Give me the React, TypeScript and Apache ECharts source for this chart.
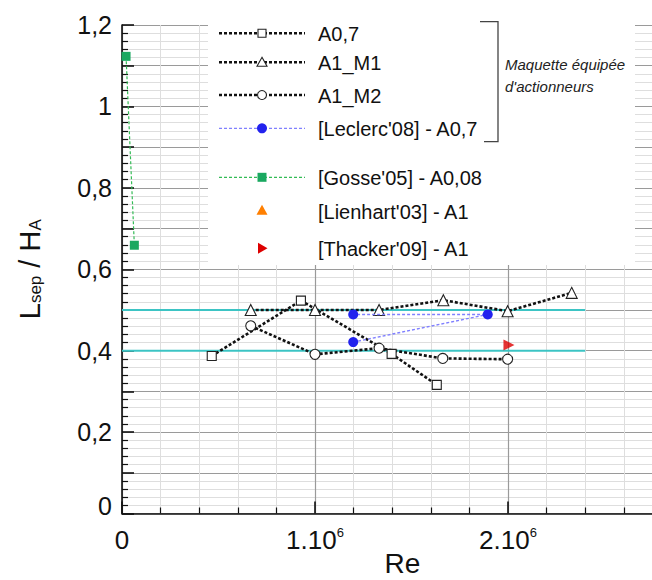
import React, { useEffect, useRef } from "react";
import * as echarts from "echarts";

// ---- data (Re, Lsep/HA) ----
const a07Re = [0.465e6, 0.927e6, 1.397e6, 1.631e6];
const a07L = [0.387, 0.523, 0.392, 0.316];

const a1m1Re = [0.667e6, 1.0e6, 1.332e6, 1.665e6, 1.998e6, 2.33e6];
const a1m1L = [0.5, 0.5, 0.5, 0.524, 0.497, 0.542];

const a1m2Re = [0.667e6, 1.0e6, 1.332e6, 1.662e6, 1.998e6];
const a1m2L = [0.461, 0.391, 0.406, 0.381, 0.379];

const leclercRe = [1.198e6, 1.895e6, 1.198e6];
const leclercL = [0.421, 0.489, 0.489];

const gosseRe = [0.021e6, 0.064e6];
const gosseL = [1.123, 0.659];

const thackerRe = [2.005e6];
const thackerL = [0.414];

const refLevels = [0.5, 0.4];
const refRe = [0, 2.4e6];

const legendNames = [
  "A0,7",
  "A1_M1",
  "A1_M2",
  "[Leclerc'08] - A0,7",
  "[Gosse'05] - A0,08",
  "[Lienhart'03] - A1",
  "[Thacker'09] - A1",
];
const bracketText = ["Maquette équipée", "d'actionneurs"];

const zip = (xs: number[], ys: number[]) => xs.map((x, i) => [x, ys[i]]);

const FONT = "'Liberation Sans', Arial, Helvetica, sans-serif";

export default function App() {
  const ref = useRef<HTMLDivElement>(null);
  useEffect(() => {
    document.body.style.margin = "0";
    const chart = echarts.init(ref.current!, null, { renderer: "svg" });
    const dotted = { color: "#111", width: 2.6, type: [3, 2] as any };
    const legendRows = [33.3, 62.3, 95, 128.3, 177.3, 210.7, 248.3];
    const lx0 = 219, lx1 = 305, mx = 262, tx = 318;
    const lg: any[] = [];
    lg.push({ type: "rect", shape: { x: 208, y: 0, width: 427, height: 265 }, style: { fill: "#fff" }, z: 90 });
    for (let i = 0; i < 5; i++) {
      const y = legendRows[i];
      const isLec = i === 3, isGos = i === 4;
      lg.push({
        type: "line", z: 91,
        shape: { x1: lx0, y1: y, x2: lx1, y2: y },
        style: {
          stroke: isLec ? "#8080ff" : isGos ? "#33bb55" : "#111",
          lineWidth: isLec || isGos ? 1.2 : 2.6,
          lineDash: [3, 2],
        },
      });
    }
    lg.push({ type: "rect", z: 92, shape: { x: mx - 4, y: legendRows[0] - 4, width: 8, height: 8 }, style: { fill: "#fff", stroke: "#222", lineWidth: 1.1 } });
    lg.push({ type: "polygon", z: 92, shape: { points: [[mx, legendRows[1] - 5], [mx + 5, legendRows[1] + 4], [mx - 5, legendRows[1] + 4]] }, style: { fill: "#fff", stroke: "#222", lineWidth: 1.1 } });
    lg.push({ type: "circle", z: 92, shape: { cx: mx, cy: legendRows[2], r: 4.5 }, style: { fill: "#fff", stroke: "#222", lineWidth: 1.1 } });
    lg.push({ type: "circle", z: 92, shape: { cx: mx, cy: legendRows[3], r: 5 }, style: { fill: "#2222ee" } });
    lg.push({ type: "rect", z: 92, shape: { x: mx - 4.5, y: legendRows[4] - 4.5, width: 9, height: 9 }, style: { fill: "#1aa860" } });
    lg.push({ type: "polygon", z: 92, shape: { points: [[mx, legendRows[5] - 6], [mx + 5.5, legendRows[5] + 4], [mx - 5.5, legendRows[5] + 4]] }, style: { fill: "#ff7f00" } });
    lg.push({ type: "polygon", z: 92, shape: { points: [[mx - 4, legendRows[6] - 5.5], [mx + 5.5, legendRows[6]], [mx - 4, legendRows[6] + 5.5]] }, style: { fill: "#dd0000" } });
    legendNames.forEach((n, i) => {
      lg.push({ type: "text", z: 93, x: tx, y: legendRows[i] + 1, style: { text: n, fill: "#111", font: `20px ${FONT}`, verticalAlign: "middle", align: "left" } });
    });
    lg.push({ type: "polyline", z: 92, shape: { points: [[480, 21.7], [498, 21.7], [498, 141.7], [484, 141.7]] }, style: { stroke: "#444", lineWidth: 1.3, fill: null } });
    bracketText.forEach((t, i) => {
      lg.push({ type: "text", z: 93, x: 505, y: 64 + i * 22, style: { text: t, fill: "#222", font: `italic 15px ${FONT}`, verticalAlign: "middle", align: "left" } });
    });

    const xFmt = (v: number) => {
      const k = Math.round(v / 1e6);
      if (Math.abs(v - k * 1e6) > 1 || k >= 3) return "";
      if (k === 0) return "{n|0}";
      return `{n|${k}.10}{s|6}`;
    };
    const yFmt = (v: number) => {
      const k = Math.round(v * 10);
      if (k % 2 !== 0) return "";
      if (k === 0) return "{z|0}";
      return (k / 10).toString().replace(".", ",");
    };

    chart.setOption({
      animation: false,
      textStyle: { fontFamily: FONT },
      grid: { left: 122, width: 579, top: 25, height: 488.5, outerBoundsMode: "none", containLabel: false },
      xAxis: {
        type: "value", min: 0, max: 3e6, interval: 1e6,
        axisLine: { show: true, onZero: false, lineStyle: { color: "#111", width: 1.6 } },
        axisTick: { show: true, inside: true, length: 12, lineStyle: { color: "#111", width: 1.6 } },
        minorTick: { show: true, splitNumber: 5, length: 6, lineStyle: { color: "#111", width: 1.2 } },
        splitLine: { show: true, lineStyle: { color: "#9a9a9a", width: 1.2 } },
        minorSplitLine: { show: true, lineStyle: { color: "#dedede", width: 1 } },
        axisLabel: {
          formatter: xFmt, margin: 12, color: "#111",
          rich: {
            n: { fontSize: 26, fontFamily: FONT, color: "#111", lineHeight: 28 },
            s: { fontSize: 13, fontFamily: FONT, color: "#111", verticalAlign: "top", lineHeight: 28, padding: [0, 0, 14, 0] },
          },
        },
        name: "Re", nameLocation: "middle", nameGap: 36, nameMoveOverlap: false,
        nameTextStyle: { fontSize: 28, color: "#111", fontFamily: FONT, padding: [0, 18, 0, 0] },
      },
      yAxis: {
        type: "value", min: 0, max: 1.2, interval: 0.1,
        axisLine: { show: true, onZero: false, lineStyle: { color: "#111", width: 1.6 } },
        axisTick: { show: true, inside: true, length: 12, lineStyle: { color: "#111", width: 1.6 } },
        minorTick: { show: true, splitNumber: 5, length: 6, lineStyle: { color: "#111", width: 1.2 } },
        splitLine: { show: true, lineStyle: { color: "#9a9a9a", width: 1.2 } },
        minorSplitLine: { show: true, lineStyle: { color: "#dedede", width: 1 } },
        axisLabel: {
          formatter: yFmt, fontSize: 25, color: "#111", margin: 10,
          rich: { z: { fontSize: 25, color: "#111", fontFamily: FONT, padding: [0, 0, 16, 0] } },
        },
        name: "{a|L}{b|sep}{a| / H}{b|A}", nameLocation: "middle", nameGap: 78, nameMoveOverlap: false,
        nameTextStyle: {
          rich: {
            a: { fontSize: 29, color: "#111", fontFamily: FONT },
            b: { fontSize: 17, color: "#111", fontFamily: FONT, verticalAlign: "bottom", padding: [12, 0, 0, 0] },
          },
        },
      },
      graphic: { elements: lg },
      series: [
        ...refLevels.map((lv) => ({
          type: "line", silent: true, symbol: "none", z: 1,
          data: refRe.map((r) => [r, lv]),
          lineStyle: { color: "#3cc4c4", width: 2 },
        })),
        {
          name: legendNames[0], type: "line", data: zip(a07Re, a07L), symbol: "rect", symbolSize: 9, z: 5,
          lineStyle: dotted, itemStyle: { color: "#fff", borderColor: "#222", borderWidth: 1.1 },
        },
        {
          name: legendNames[1], type: "line", data: zip(a1m1Re, a1m1L), symbol: "triangle", symbolSize: 11, z: 5,
          lineStyle: dotted, itemStyle: { color: "#fff", borderColor: "#222", borderWidth: 1.1 },
        },
        {
          name: legendNames[2], type: "line", data: zip(a1m2Re, a1m2L), symbol: "circle", symbolSize: 10, z: 5,
          lineStyle: dotted, itemStyle: { color: "#fff", borderColor: "#222", borderWidth: 1.1 },
        },
        {
          name: legendNames[3], type: "line", data: zip(leclercRe, leclercL), symbol: "circle", symbolSize: 10, z: 6,
          lineStyle: { color: "#8080ff", width: 1.4, type: [3, 2] as any }, itemStyle: { color: "#2222ee" },
        },
        {
          name: legendNames[4], type: "line", data: zip(gosseRe, gosseL), symbol: "rect", symbolSize: 9, z: 6,
          lineStyle: { color: "#33bb55", width: 1.2, type: [3, 2] as any }, itemStyle: { color: "#1aa860" },
        },
        {
          name: legendNames[5], type: "scatter", data: [], symbol: "triangle", itemStyle: { color: "#ff7f00" },
        },
        {
          name: legendNames[6], type: "scatter", data: zip(thackerRe, thackerL), symbol: "triangle", symbolRotate: -90, symbolSize: 11, z: 6,
          itemStyle: { color: "#dd0000" },
        },
      ],
    });
    return () => chart.dispose();
  }, []);
  return <div ref={ref} style={{ width: 652, height: 580 }} />;
}
